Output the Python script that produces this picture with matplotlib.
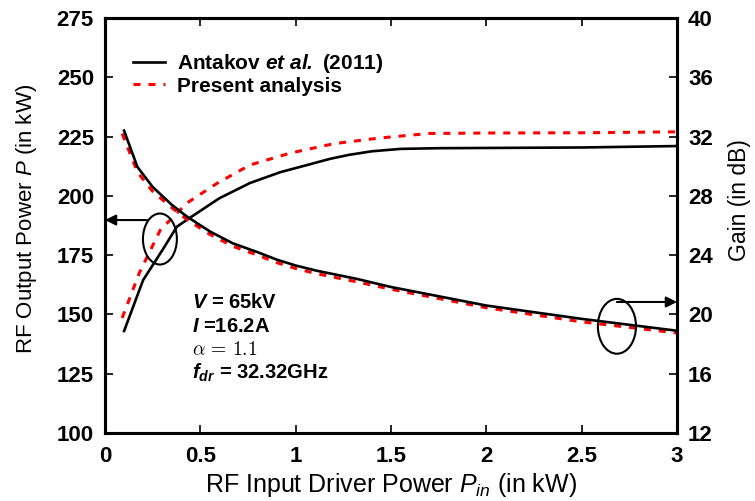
import matplotlib
matplotlib.use("Agg")
import matplotlib.pyplot as plt
from matplotlib.patches import Ellipse

# ---------------- data ----------------
x_pow_ant = [0.1, 0.2, 0.3, 0.377, 0.45, 0.6, 0.76, 0.92, 1.06, 1.18, 1.28, 1.4, 1.55, 1.75, 2.0, 2.5, 3.0]
p_ant = [143, 164.5, 177, 187, 191, 199, 205.4, 210, 213, 215.6, 217.3, 218.8, 219.8, 220.1, 220.2, 220.4, 221]

x_pow_pre = [0.09, 0.18, 0.29, 0.43, 0.59, 0.76, 0.97, 1.2, 1.44, 1.7, 2.0, 2.5, 3.0]
p_pre = [148.5, 167.5, 185.6, 197, 205.4, 213, 218, 222, 224.4, 226.3, 226.5, 226.6, 227]

x_gain_ant = [0.1, 0.17, 0.25, 0.35, 0.43, 0.55, 0.67, 0.8, 0.9, 1.0, 1.11, 1.32, 1.5, 2.0, 2.5, 3.0]
g_ant = [32.4, 29.95, 28.6, 27.4, 26.6, 25.6, 24.8, 24.2, 23.7, 23.3, 22.95, 22.4, 21.85, 20.6, 19.7, 18.9]

x_gain_pre = [0.09, 0.17, 0.25, 0.35, 0.43, 0.55, 0.67, 0.8, 0.9, 1.0, 1.11, 1.32, 1.5, 2.0, 2.5, 3.0]
g_pre = [32.2, 29.6, 28.3, 27.2, 26.4, 25.4, 24.6, 24.0, 23.5, 23.1, 22.75, 22.2, 21.7, 20.45, 19.5, 18.75]

x_ticks = [0, 0.5, 1, 1.5, 2, 2.5, 3]
x_ticklabels = ["0", "0.5", "1", "1.5", "2", "2.5", "3"]
p_ticks = [100, 125, 150, 175, 200, 225, 250, 275]
g_ticks = [12, 16, 20, 24, 28, 32, 36, 40]

legend_labels = [r"Antakov $\mathbf{et\ al.}$ (2011)", "Present analysis"]
params_text = [r"$\mathbf{V}$ = 65kV", r"$\mathbf{I}$ =16.2A", r"$\alpha\,=\,1.1$",
               r"$\mathbf{f}_{\mathbf{dr}}$ = 32.32GHz"]

# ---------------- style ----------------
plt.rcParams["font.family"] = ["Liberation Sans", "DejaVu Sans"]
plt.rcParams["mathtext.fontset"] = "custom"
plt.rcParams["mathtext.rm"] = "Liberation Sans"
plt.rcParams["mathtext.it"] = "Liberation Sans:italic"
plt.rcParams["mathtext.bf"] = "Liberation Sans:italic:bold"

fig = plt.figure(figsize=(7.55, 5.01), dpi=100)
ax = fig.add_axes([105 / 755, 1 - 433 / 501, (677 - 105) / 755, (433 - 18) / 501])
ax2 = ax.twinx()

lw_spine = 2.2
for a in (ax, ax2):
    for s in a.spines.values():
        s.set_linewidth(lw_spine)

black_lw = 1.9
red_lw = 2.2
l1, = ax.plot(x_pow_ant, p_ant, color="black", lw=black_lw, zorder=3)
l2, = ax.plot(x_pow_pre, p_pre, color="#ff0000", lw=red_lw, dashes=(2.3, 2.6), zorder=2)
ax2.plot(x_gain_pre, g_pre, color="#ff0000", lw=red_lw, dashes=(2.3, 2.6), zorder=2)
ax2.plot(x_gain_ant, g_ant, color="black", lw=black_lw, zorder=3)

ax.set_xlim(0, 3)
ax.set_ylim(100, 275)
ax2.set_ylim(12, 40)
ax.set_xticks(x_ticks)
ax.set_xticklabels(x_ticklabels)
ax.set_yticks(p_ticks)
ax2.set_yticks(g_ticks)

ax.tick_params(axis="both", direction="in", length=6, width=1.2, labelsize=16, pad=8)
ax.tick_params(axis="x", top=True, pad=9)
ax2.tick_params(axis="y", direction="in", length=6, width=1.2, labelsize=16, pad=8)
for lab in ax.get_xticklabels() + ax.get_yticklabels() + ax2.get_yticklabels():
    lab.set_fontweight("bold")

ax.set_xlabel(r"RF Input Driver Power $P_{in}$ (in kW)", fontsize=18, labelpad=3)
ax.set_ylabel(r"RF Output Power $P$ (in kW)", fontsize=16)
ax.yaxis.set_label_coords((39 - 105) / 572, (433 - 219) / 415)
ax2.set_ylabel("Gain (in dB)", fontsize=16.5)
ax2.yaxis.set_label_coords((728 - 105) / 572, (433 - 200) / 415)

# ellipses and arrows
e1 = Ellipse((0.288, 181.8), width=0.178, height=21.5, fill=False, lw=1.5, ec="black", zorder=4)
ax.add_patch(e1)
ax.annotate("", xy=(0.0, 189.8), xytext=(0.22, 189.8),
            arrowprops=dict(arrowstyle="-|>", lw=1.5, color="black", mutation_scale=16,
                            shrinkA=0, shrinkB=0))
e2 = Ellipse((2.685, 19.2), width=0.2, height=3.7, fill=False, lw=1.5, ec="black", zorder=4)
ax2.add_patch(e2)
ax2.annotate("", xy=(3.0, 20.84), xytext=(2.685, 20.84),
             arrowprops=dict(arrowstyle="-|>", lw=1.5, color="black", mutation_scale=16,
                             shrinkA=0, shrinkB=0))

# parameter text block
ys_px = [303, 327, 350, 373]
for txt, ypx in zip(params_text, ys_px):
    if "alpha" in txt:
        fig.text(192 / 755, 1 - ypx / 501, txt, fontsize=14, va="center", ha="left",
                 math_fontfamily="cm")
    else:
        fig.text(192 / 755, 1 - ypx / 501, txt, fontsize=14.5, fontweight="bold",
                 va="center", ha="left")

# legend
leg = ax.legend([l1, l2], legend_labels, loc="upper left",
                bbox_to_anchor=(133 / 755, 1 - 52 / 501), bbox_transform=fig.transFigure,
                frameon=False, borderpad=0, borderaxespad=0, handlelength=1.55,
                handletextpad=0.58, labelspacing=0.08,
                prop={"weight": "bold", "size": 15})

fig.savefig("out.png", dpi=100)
